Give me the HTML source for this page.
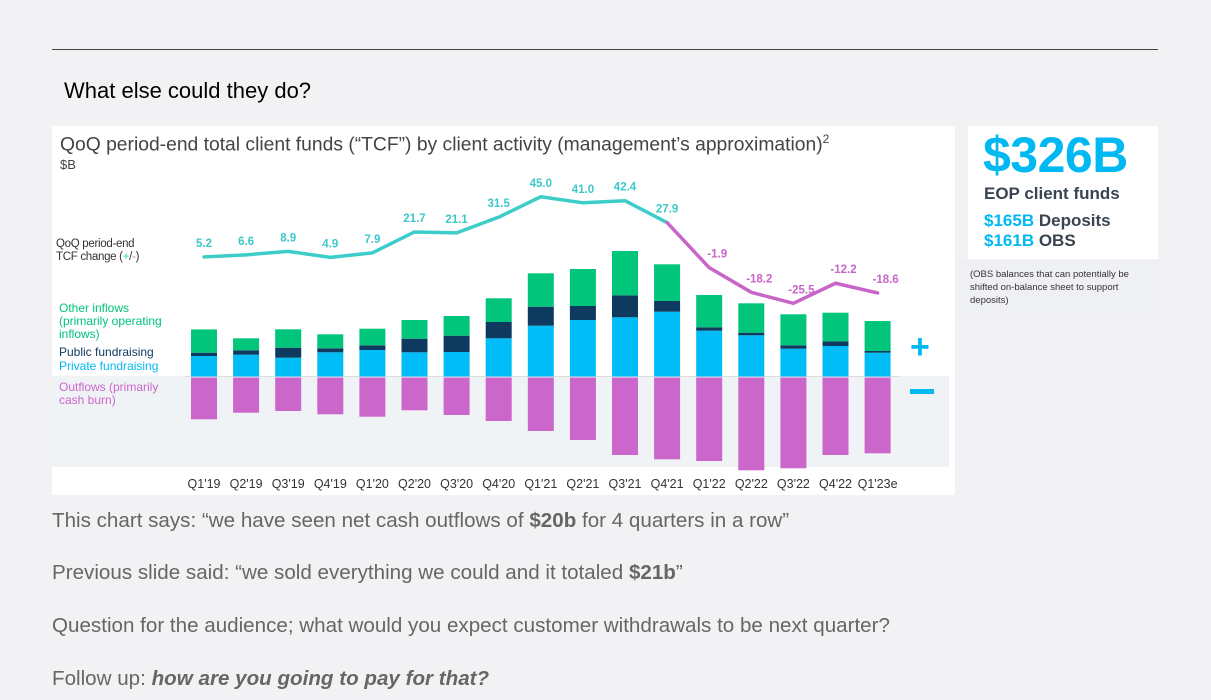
<!DOCTYPE html>
<html><head><meta charset="utf-8"><style>
body{margin:0;width:1211px;height:700px;background:#f2f2f4;font-family:"Liberation Sans",sans-serif;position:relative;overflow:hidden}
.abs{position:absolute}
.p{position:absolute;left:52px;font-size:20.6px;color:#666;white-space:nowrap}
</style></head><body>
<div class="abs" style="left:52px;top:49px;width:1106px;height:1px;background:#444"></div>
<div class="abs" style="left:64px;top:78px;font-size:22px;color:#000">What else could they do?</div>
<div class="abs" style="left:52px;top:126px;width:903px;height:369px;background:#fff"></div>
<div class="abs" style="left:52px;top:376px;width:897px;height:91px;background:#f0f3f6"></div>
<div class="abs" style="left:60px;top:132px;font-size:19.3px;color:#444;white-space:nowrap">QoQ period-end total client funds (“TCF”) by client activity (management’s approximation)<sup style="font-size:12px">2</sup></div>
<div class="abs" style="left:60px;top:157px;font-size:13px;color:#444">$B</div>
<div class="abs" style="left:56px;top:238px;font-size:11.5px;color:#333;line-height:13px;letter-spacing:-0.3px">QoQ period-end<br>TCF change (<span style="color:#2ccfc5">+</span>/<span style="color:#c865c8">-</span>)</div>
<div class="abs" style="left:59px;top:302px;font-size:12px;color:#00c27a;line-height:13px">Other inflows<br>(primarily operating<br>inflows)</div>
<div class="abs" style="left:59px;top:345px;font-size:12px;color:#113a60">Public fundraising</div>
<div class="abs" style="left:59px;top:359px;font-size:12px;color:#00b9f2">Private fundraising</div>
<div class="abs" style="left:59px;top:381px;font-size:12px;color:#cb66cb;line-height:13px">Outflows (primarily<br>cash burn)</div>
<div class="abs" style="left:910px;top:332px;font-size:34px;font-weight:bold;color:#00b9f2;line-height:30px">+</div>
<div class="abs" style="left:910px;top:389px;width:24px;height:5px;background:#00b9f2"></div>
<svg class="abs" style="left:0;top:0" width="1211" height="700" id="chart"></svg>
<div class="abs" style="left:968px;top:126px;width:190px;height:133px;background:#fff"></div>
<div class="abs" style="left:983px;top:126px;font-size:50px;font-weight:bold;color:#00b9f2;letter-spacing:-0.5px">$326B</div>
<div class="abs" style="left:984px;top:184px;font-size:17px;font-weight:bold;color:#3a4450">EOP client funds</div>
<div class="abs" style="left:984px;top:211px;font-size:17px;font-weight:bold;color:#3a4450;line-height:20px"><span style="color:#00b9f2">$165B</span> Deposits<br><span style="color:#00b9f2">$161B</span> OBS</div>
<div class="abs" style="left:955px;top:260px;width:205px;height:58px;background:#eef0f4"></div>
<div class="abs" style="left:970px;top:268px;font-size:9.5px;color:#333;line-height:13px">(OBS balances that can potentially be<br>shifted on-balance sheet to support<br>deposits)</div>
<div class="p" style="top:509px">This chart says: “we have seen net cash outflows of <b>$20b</b> for 4 quarters in a row”</div>
<div class="p" style="top:561px">Previous slide said: “we sold everything we could and it totaled <b>$21b</b>”</div>
<div class="p" style="top:614px">Question for the audience; what would you expect customer withdrawals to be next quarter?</div>
<div class="p" style="top:667px">Follow up: <b><i>how are you going to pay for that?</i></b></div>
<script>
const categories=["Q1'19","Q2'19","Q3'19","Q4'19","Q1'20","Q2'20","Q3'20","Q4'20","Q1'21","Q2'21","Q3'21","Q4'21","Q1'22","Q2'22","Q3'22","Q4'22","Q1'23e"];
const privateFund=[20.5,21.8,18.8,24.2,26.5,24.2,24.5,38.2,50.8,56.5,59.2,64.8,45.8,41.2,27.8,30.5,23.8];
const publicFund=[3.3,4.4,10,4,4.7,13.6,16.3,16.3,19,14,22,10.7,3.4,2.6,3.4,4.7,1.7];
const otherInflows=[23.3,12,18.4,14,16.6,18.7,19.7,23.7,33.4,37,44.3,36.7,32.3,29.4,31,28.6,30];
const outflows=[41.8,35.2,33.5,36.8,39.2,32.8,37.5,43.5,53.5,62.5,77.5,81.8,83.5,92.8,90.8,77.5,75.8];
const tcfChange=[5.2,6.6,8.9,4.9,7.9,21.7,21.1,31.5,45.0,41.0,42.4,27.9,-1.9,-18.2,-25.5,-12.2,-18.6];
const NS="http://www.w3.org/2000/svg",svg=document.getElementById('chart');
const x=i=>204+i*42.1, base=376.5, bh=v=>v*1.0, ly=v=>264.8-1.512*v;
function mk(t,a){const e=document.createElementNS(NS,t);for(const k in a)e.setAttribute(k,a[k]);svg.appendChild(e);return e;}
const bl=mk('line',{x1:185,x2:900,y1:base,y2:base,stroke:'#ddd','stroke-width':1});


categories.forEach((c,i)=>{
  const w=26,l=x(i)-w/2;let y=base;
  [[privateFund[i],'#00bdf8','private'],[publicFund[i],'#0f3a5f','public'],[otherInflows[i],'#00c57a','other']].forEach(([v,col,n])=>{
    const h=bh(v);y-=h;const r=mk('rect',{x:l,y:y,width:w,height:h,fill:col});
    
    
  });
  const o=mk('rect',{x:l,y:base+1,width:w,height:bh(outflows[i]),fill:'#cb66cb'});
  
  
  const t=mk('text',{x:x(i),y:488,'text-anchor':'middle','font-size':12.5,fill:'#333','font-family':'Liberation Sans'});t.textContent=c;
  
  
});
let firstNeg=tcfChange.findIndex(v=>v<0);
const pos=tcfChange.slice(0,firstNeg).map((v,i)=>x(i)+','+ly(v)).join(' ');
const neg=tcfChange.map((v,i)=>i>=firstNeg-1?x(i)+','+ly(v):null).filter(Boolean).join(' ');
const l1=mk('polyline',{points:pos,fill:'none',stroke:'#3ccdc8','stroke-width':3.5,'stroke-linejoin':'round','stroke-linecap':'round'});


const l2=mk('polyline',{points:neg,fill:'none',stroke:'#c865c8','stroke-width':3.5,'stroke-linejoin':'round','stroke-linecap':'round'});


tcfChange.forEach((v,i)=>{
  const t=mk('text',{x:x(i)+(v<0?8:0),y:ly(v)-10,'text-anchor':'middle','font-size':11.5,'font-weight':'bold',fill:v<0?'#c865c8':'#3cc8c8','font-family':'Liberation Sans'});
  t.textContent=v.toFixed(1);
  
  
});
</script>
</body></html>
